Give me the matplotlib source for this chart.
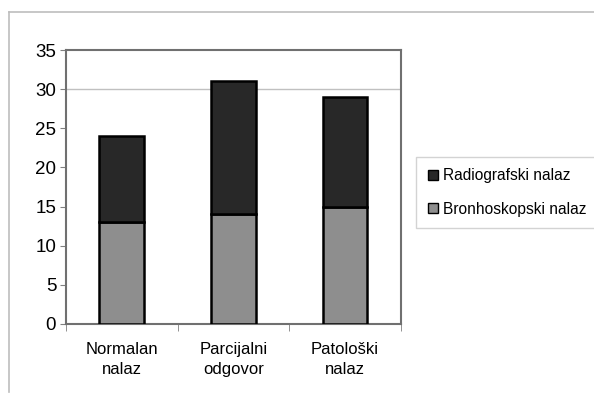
import matplotlib.pyplot as plt
from matplotlib.lines import Line2D

plt.rcParams['font.family'] = ['Liberation Sans', 'DejaVu Sans']

# categories and values
categories = ['Normalan\nnalaz', 'Parcijalni\nodgovor', 'Patološki\nnalaz']
bronhoskopski = [13, 14, 15]
radiografski = [11, 17, 14]
y_ticks = [0, 5, 10, 15, 20, 25, 30, 35]

fig = plt.figure(figsize=(5.94, 4.05), dpi=100)
ax = fig.add_axes([0.111, 0.2, 0.564, 0.6765])

x = range(len(categories))
ax.bar(x, bronhoskopski, width=0.4, color='#8e8e8e', edgecolor='black',
       linewidth=1.8, label='Bronhoskopski nalaz', zorder=3)
ax.bar(x, radiografski, width=0.4, bottom=bronhoskopski, color='#282828',
       edgecolor='black', linewidth=1.8, label='Radiografski nalaz', zorder=3)

# only the 30 gridline shows in the original
ax.axhline(30, color='#c0c0c0', linewidth=1, zorder=1)

ax.set_xlim(-0.5, 2.5)
ax.set_ylim(0, 35)
ax.set_yticks(y_ticks)
ax.tick_params(axis='y', labelsize=13.5, length=4, color='#808080', pad=3)

# ticks between categories, labels centred under bars
ax.set_xticks(x)
ax.set_xticklabels(categories, fontsize=12, linespacing=1.45)
ax.set_xticks([-0.5, 0.5, 1.5, 2.5], minor=True)
ax.tick_params(axis='x', which='major', length=0, pad=13)
ax.tick_params(axis='x', which='minor', length=5, color='#808080')

for s in ax.spines.values():
    s.set_color('#707070')
    s.set_linewidth(1.5)

# outer chart frame (top and left edges visible)
fig.add_artist(Line2D([9/594, 1.0], [1 - 12/405, 1 - 12/405],
                      color='#bdbdbd', linewidth=1.2))
fig.add_artist(Line2D([9/594, 9/594], [1 - 12/405, 1 - 392/405],
                      color='#bdbdbd', linewidth=1.2))

handles = [
    Line2D([], [], marker='s', linestyle='none', markersize=7.5,
           markerfacecolor='#282828', markeredgecolor='black'),
    Line2D([], [], marker='s', linestyle='none', markersize=7.5,
           markerfacecolor='#8e8e8e', markeredgecolor='black'),
]
leg = fig.legend(handles, ['Radiografski nalaz', 'Bronhoskopski nalaz'],
                 loc='upper left', bbox_to_anchor=(0.700, 0.612),
                 fontsize=11.2, frameon=True, fancybox=False,
                 handlelength=0.8, handletextpad=0.25, borderpad=0.7,
                 labelspacing=1.2, borderaxespad=0)
leg.get_frame().set_edgecolor('#c8c8c8')
leg.get_frame().set_linewidth(1)

fig.savefig('out.png', dpi=100)
